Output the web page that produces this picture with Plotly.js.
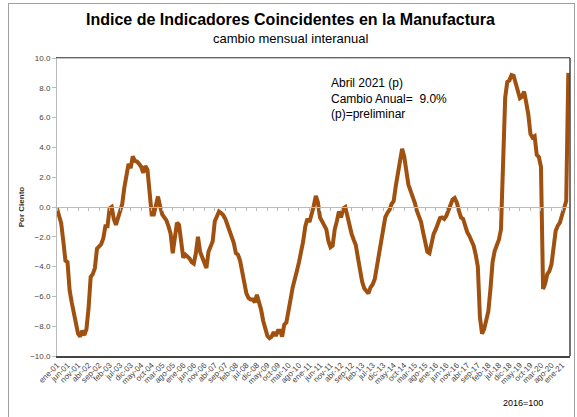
<!DOCTYPE html>
<html>
<head>
<meta charset="utf-8">
<script src="https://cdn.plot.ly/plotly-3.0.1.min.js"></script>
<style>
html,body{margin:0;padding:0;background:#fff;}
#frame{position:absolute;left:8px;top:3px;width:567px;height:430px;border:1px solid #a0a0a0;box-sizing:border-box;}
#chart{position:absolute;left:0;top:0;width:577px;height:417px;}
</style>
</head>
<body>
<div id="frame"></div>
<div id="chart"></div>
<script>
// Monthly year-over-year change, ene-2001 .. abr-2021
var startYear = 2001;
var monthNames = ["ene","feb","mar","abr","may","jun","jul","ago","sep","oct","nov","dic"];
var values = [
 -0.1,-0.7,-1.1,-2.3,-3.6,-3.7,-5.6,-6.4,-7.2,-7.9,-8.5,-8.7,
 -8.3,-8.6,-8.2,-6.8,-4.7,-4.5,-4.1,-2.8,-2.6,-2.5,-2.1,-1.3,
 -1.3,-0.1,0.0,-0.8,-1.2,-0.7,-0.2,0.2,1.3,2.3,2.9,2.6,
 3.4,3.1,3.05,2.9,2.7,2.3,2.75,2.5,1.1,-0.5,-0.5,0.05,
 0.7,0.05,-0.5,-0.7,-0.9,-1.3,-1.8,-3.1,-2.2,-1.05,-1.2,-2.1,
 -3.4,-3.2,-3.3,-3.45,-3.7,-3.8,-3.1,-2.0,-3.0,-3.4,-3.6,-4.1,
 -3.0,-2.55,-2.3,-0.95,-0.6,-0.3,-0.4,-0.55,-0.8,-1.2,-1.55,-1.85,
 -2.4,-3.1,-3.2,-3.6,-4.3,-5.1,-5.8,-6.1,-6.2,-6.2,-6.4,-5.9,
 -6.4,-6.9,-7.65,-8.3,-8.65,-8.8,-8.7,-8.4,-8.65,-8.3,-8.3,-8.7,
 -7.9,-7.75,-7.1,-6.2,-5.4,-4.7,-4.3,-3.7,-3.1,-2.3,-1.3,-0.8,
 -1.0,-0.5,0.05,0.75,0.3,-0.7,-0.95,-1.2,-1.5,-2.3,-2.7,-2.6,
 -1.5,-0.95,-0.3,-0.7,-0.1,0.0,-0.7,-1.3,-1.8,-2.2,-2.55,-3.4,
 -4.3,-5.0,-5.45,-5.6,-5.8,-5.4,-5.2,-4.85,-4.0,-3.1,-2.2,-1.4,
 -0.7,-0.4,-0.2,0.2,0.4,1.4,2.3,3.3,3.9,3.4,2.3,1.5,
 1.1,0.75,0.3,-0.25,-0.7,-1.0,-1.7,-2.5,-3.0,-3.1,-2.5,-1.8,
 -1.5,-1.1,-0.75,-0.7,-0.8,-0.6,-0.2,0.2,0.5,0.6,0.3,-0.25,
 -0.7,-0.8,-1.35,-1.7,-1.95,-2.3,-2.6,-3.2,-4.0,-7.4,-8.5,-8.2,
 -7.65,-7.0,-5.5,-3.7,-2.95,-2.6,-2.2,-1.5,2.2,7.35,8.4,8.5,
 8.85,8.8,8.3,7.7,7.3,7.4,7.75,7.0,6.2,4.9,4.65,4.75,
 3.5,3.35,2.7,-5.5,-5.15,-4.5,-4.3,-3.85,-2.55,-1.6,-1.25,-1.05,
 -0.55,-0.15,0.4,9.0
];
var tickStep = 5;
var yTicks = [-10,-8,-6,-4,-2,0,2,4,6,8,10];
var noteLines = ["Abril 2021 (p)", "Cambio Anual=&nbsp; 9.0%", "(p)=preliminar"];

var idx = values.map(function(v,i){return i;});
var labels = idx.map(function(i){
  var y = startYear + Math.floor(i/12);
  return monthNames[i%12] + "-" + String(y%100).padStart(2,"0");
});
var tickvals = [], ticktext = [];
for (var i=0;i<values.length;i+=tickStep){ tickvals.push(i); ticktext.push(labels[i]); }

var trace = {
  x: idx, y: values, type: "scatter", mode: "lines",
  line: {color: "#a0500f", width: 4},
  hoverinfo: "skip"
};
var zeroTrace = {x:[0], y:[0], xaxis:"x2", yaxis:"y", mode:"markers", marker:{opacity:0}, hoverinfo:"skip", showlegend:false};

var layout = {
  width: 577, height: 417,
  margin: {l:57, r:7, t:58, b:61},
  paper_bgcolor: "rgba(0,0,0,0)", plot_bgcolor: "#fff",
  showlegend: false,
  font: {family: "Liberation Sans, Arial, sans-serif", color: "#333"},
  xaxis: {
    range: [0, 243.8], tickvals: tickvals, ticktext: ticktext,
    tickangle: -45, tickfont: {size: 8, color: "#444"},
    showgrid: false, zeroline: false, ticks: "",
    showline: true, linecolor: "#444", linewidth: 1.5, mirror: true
  },
  xaxis2: {
    overlaying: "x", anchor: "free", position: 0.5, side: "bottom",
    range: [0, 243.8], tickvals: tickvals, showticklabels: false,
    ticks: "outside", ticklen: 3, tickcolor: "#bbb", showline: true,
    linecolor: "#bbb", linewidth: 1, showgrid: false, zeroline: false
  },
  yaxis: {
    range: [-10, 10], tickvals: yTicks, tickformat: ".1f",
    tickfont: {size: 8, color: "#444"}, ticks: "outside", ticklen: 4, tickcolor: "#bbb",
    showgrid: false, zeroline: false, showline: true, linecolor: "#bbb", linewidth: 1,
    title: {text: "<b>Por Ciento</b>", font: {size: 8, color: "#333"}, standoff: 4}
  },
  shapes: [
    {type:"line", xref:"paper", yref:"paper", x0:0, x1:1, y0:1, y1:1, line:{color:"#888", width:1}},
    {type:"line", xref:"paper", yref:"paper", x0:1, x1:1, y0:0, y1:1, line:{color:"#444", width:1.5}}
  ],
  annotations: [
    {xref:"paper", yref:"paper", x:0.455, xanchor:"center", y:1.0, yanchor:"bottom", yshift:28,
     text:"<b>Indice de Indicadores Coincidentes en la Manufactura</b>", showarrow:false,
     font:{size:16, color:"#000", family:"Liberation Sans, Arial, sans-serif"}},
    {xref:"paper", yref:"paper", x:0.455, xanchor:"center", y:1.0, yanchor:"bottom", yshift:10,
     text:"cambio mensual interanual", showarrow:false,
     font:{size:13, color:"#000", family:"Liberation Sans, Arial, sans-serif"}},
    {xref:"paper", yref:"paper", x:0.531, xanchor:"left", y:0.945, yanchor:"top",
     text: noteLines.join("<br>"), align:"left", showarrow:false,
     font:{size:12, color:"#000", family:"Liberation Sans, Arial, sans-serif"}},
    {xref:"paper", yref:"paper", x:0.952, xanchor:"right", y:-0.135, yanchor:"top",
     text:"2016=100", showarrow:false,
     font:{size:9, color:"#000", family:"Liberation Sans, Arial, sans-serif"}}
  ]
};
Plotly.newPlot("chart", [trace, zeroTrace], layout, {displayModeBar:false, staticPlot:true});
</script>
</body>
</html>
